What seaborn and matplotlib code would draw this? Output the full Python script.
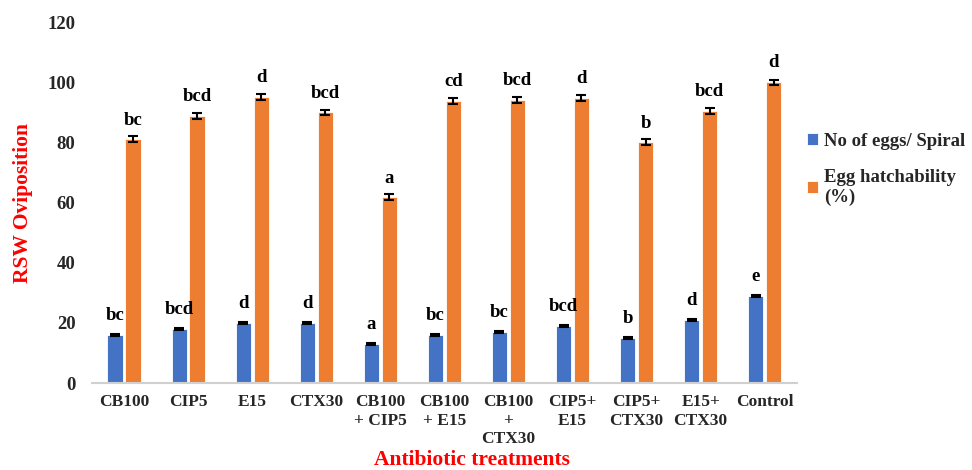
import numpy as np
import pandas as pd
import matplotlib
matplotlib.use("Agg")
import matplotlib.pyplot as plt
import seaborn as sns

# data
treatments = ["CB100", "CIP5", "E15", "CTX30", "CB100\n+ CIP5", "CB100\n+ E15",
              "CB100\n+\nCTX30", "CIP5+\nE15", "CIP5+\nCTX30", "E15+\nCTX30", "Control"]
eggs = [16, 18, 20, 20, 13, 16, 17, 19, 15, 21, 29]
eggs_err = [0.3, 0.3, 0.3, 0.3, 0.3, 0.3, 0.3, 0.3, 0.4, 0.4, 0.4]
eggs_letters = ["bc", "bcd", "d", "d", "a", "bc", "bc", "bcd", "b", "d", "e"]
hatch = [81, 88.8, 95, 90, 61.7, 93.7, 94, 94.7, 80, 90.5, 100]
hatch_err = [1.0, 1.0, 1.0, 0.8, 1.0, 1.0, 1.0, 1.0, 1.0, 1.0, 0.9]
hatch_letters = ["bc", "bcd", "d", "bcd", "a", "cd", "bcd", "d", "b", "bcd", "d"]
series = ["No of eggs/ Spiral", "Egg hatchability\n(%)"]
colors = ["#4472C4", "#ED7D31"]

df = pd.DataFrame({
    "treatment": treatments * 2,
    "series": [series[0]] * len(treatments) + [series[1]] * len(treatments),
    "value": eggs + hatch,
})

sns.set_style("white")
plt.rcParams['font.family'] = ['Liberation Serif', 'DejaVu Serif']
plt.rcParams['font.weight'] = 'bold'

fig = plt.figure(figsize=(9.72, 4.70), dpi=100)
ax = fig.add_axes([0.0947, 0.185, 0.725, 0.768])

sns.barplot(data=df, x="treatment", y="value", hue="series", palette=colors,
            saturation=1, width=0.56, gap=0.15, errorbar=None, ax=ax,
            edgecolor="white", linewidth=0.6)

# error bars and significance letters on top of each bar
n = len(treatments)
for k, (vals, errs, letters) in enumerate([(eggs, eggs_err, eggs_letters),
                                            (hatch, hatch_err, hatch_letters)]):
    patches = ax.patches[k * n:(k + 1) * n]
    xs = [p.get_x() + p.get_width() / 2 for p in patches]
    ax.errorbar(xs, vals, yerr=errs, fmt="none", ecolor="black",
                elinewidth=1.5, capsize=3.5, capthick=1.5)
    for x, v, lab in zip(xs, vals, letters):
        ax.text(x, v + 3.6, lab, ha="center", va="bottom", fontsize=13.5,
                fontweight="bold", color="black")

ax.set_ylim(0, 120)
ax.set_xlim(-0.5, n - 0.5)
ax.set_yticks(range(0, 121, 20))
ax.tick_params(axis="both", length=0)
ax.tick_params(axis="y", pad=12, labelsize=13.5)
ax.tick_params(axis="x", pad=8, labelsize=12.5)
for lab in ax.get_xticklabels() + ax.get_yticklabels():
    lab.set_fontweight("bold")
for lab in ax.get_xticklabels():
    lab.set_linespacing(1.22)

for s in ["top", "right", "left"]:
    ax.spines[s].set_visible(False)
ax.spines["bottom"].set_color("#d0d0d0")
ax.spines["bottom"].set_linewidth(1.5)

ax.set_xlabel("")
ax.set_ylabel("RSW Oviposition", color="red", fontsize=15.5,
              fontweight="bold", labelpad=10)
fig.text(0.486, 0.021, "Antibiotic treatments", color="red", fontsize=15.5,
         fontweight="bold", ha="center", va="center")

leg = ax.legend(loc="upper left", bbox_to_anchor=(0.99, 0.74), frameon=False,
                handlelength=0.6, handleheight=0.6, handletextpad=0.35,
                labelspacing=1.0, prop={"weight": "bold", "size": 13.5})

fig.savefig("out.png", dpi=100)
